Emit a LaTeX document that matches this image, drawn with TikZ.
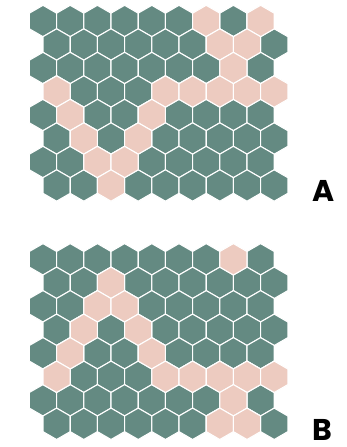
\documentclass[tikz,border=0pt]{standalone}
\usepackage{fontspec}
\newfontfamily\labfont{Poppins}
\definecolor{hexgreen}{HTML}{648A82}
\definecolor{hexpink}{HTML}{EDCBC0}
\tikzset{
  hexa/.pic={\path[pic actions] (90:15.7) -- (30:15.7) -- (-30:15.7) -- (-90:15.7) -- (-150:15.7) -- (150:15.7) -- cycle;},
  hexg/.style={fill=hexgreen, draw=white, line width=1.1pt},
  hexp/.style={fill=hexpink, draw=white, line width=1.1pt},
  lab/.style={font=\labfont\bfseries\fontsize{30}{30}\selectfont, anchor=base west, inner sep=0pt}
}
\begin{document}
\begin{tikzpicture}[x=1pt,y=-1pt]
\useasboundingbox (0,0) rectangle (347,447);
% grid A
\foreach \r in {0,...,7} \foreach \c in {0,...,8} {
  \pgfmathsetmacro\xx{43+27.2*\c+13.6*mod(\r,2)}
  \pgfmathsetmacro\yy{21+23.5*\r}
  \pic[hexg] at (\xx,\yy) {hexa};
}
\foreach \c/\r in {6/0,8/0,6/1,7/1,7/2,0/3,4/3,5/3,6/3,7/3,8/3,1/4,4/4,1/5,3/5,2/6,3/6,2/7} {
  \pgfmathsetmacro\xx{43+27.2*\c+13.6*mod(\r,2)}
  \pgfmathsetmacro\yy{21+23.5*\r}
  \pic[hexp] at (\xx,\yy) {hexa};
}
% grid B
\foreach \r in {0,...,7} \foreach \c in {0,...,8} {
  \pgfmathsetmacro\xx{43+27.2*\c+13.6*mod(\r,2)}
  \pgfmathsetmacro\yy{259.3+23.5*\r}
  \pic[hexg] at (\xx,\yy) {hexa};
}
\foreach \c/\r in {7/0,2/1,2/2,3/2,1/3,3/3,1/4,4/4,0/5,4/5,5/5,6/5,7/5,8/5,7/6,6/7,7/7} {
  \pgfmathsetmacro\xx{43+27.2*\c+13.6*mod(\r,2)}
  \pgfmathsetmacro\yy{259.3+23.5*\r}
  \pic[hexp] at (\xx,\yy) {hexa};
}
\node[lab] (labA) at (312,201.5) {A};
\node[lab] (labB) at (312,440) {B};
\end{tikzpicture}
\end{document}
